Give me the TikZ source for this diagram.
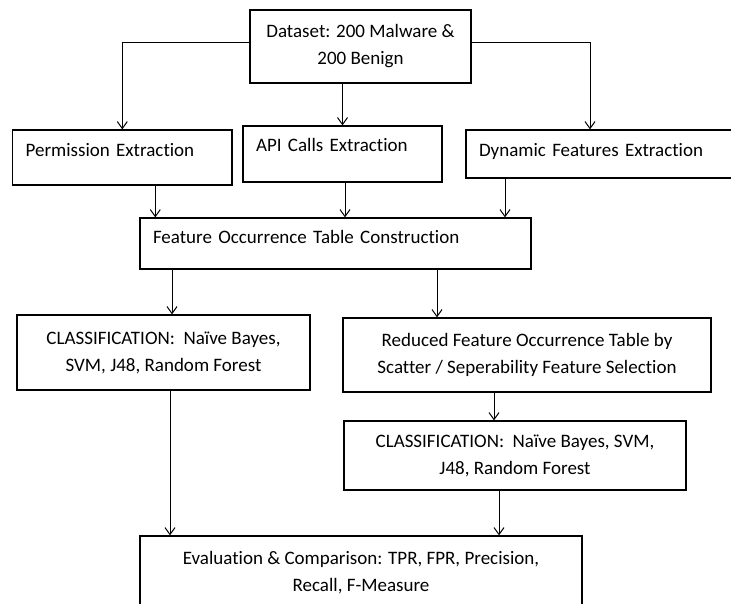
\documentclass[tikz,border=0pt]{standalone}
\usepackage{fontspec}
\setmainfont{Carlito}[Ligatures={NoCommon}]
\usetikzlibrary{arrows.meta}
\begin{document}
\begin{tikzpicture}[x=1pt,y=-1pt,
		box/.style={draw,line width=1.2pt,inner sep=0pt,font=\fontsize{19}{27}\selectfont},
		cbox/.style={box,align=center},
		lbox/.style={box,align=left,inner xsep=13pt},
		arr/.style={line width=1pt,-{Straight Barb[length=7pt,width=10pt]}}]
		\useasboundingbox (0,0) rectangle (731,604);
		\clip (0,0) rectangle (731,604);
		
		\node[cbox,minimum width=221pt,minimum height=73pt] (data) at (360.5,46.5) {Dataset: 200 Malware \&\\200 Benign};
		\node[lbox,text width=193.4pt,minimum height=55pt,text height=13pt,text depth=14.6pt] (perm) at (122.3,157.5) {Permission Extraction};
		\node[lbox,text width=173pt,minimum height=56pt,text height=13pt,text depth=17.6pt] (api) at (342.5,154) {API Calls Extraction};
		\node[lbox,text width=253pt,minimum height=48pt,text height=13pt,text depth=7.6pt] (dyn) at (605.5,154) {Dynamic Features Extraction};
		\node[lbox,text width=365pt,minimum height=51pt,text height=13pt,text depth=13.4pt] (feat) at (335.5,243.5) {Feature Occurrence Table Construction};
		\node[cbox,minimum width=293pt,minimum height=75pt] (classL) at (163.5,352.5) {CLASSIFICATION:\ \ Naïve Bayes,\\SVM, J48, Random Forest};
		\node[cbox,minimum width=368pt,minimum height=74pt] (red) at (527,355) {Reduced Feature Occurrence Table by\\Scatter / Seperability Feature Selection};
		\node[cbox,minimum width=342pt,minimum height=69pt] (classR) at (515,455.5) {CLASSIFICATION:\ \ Naïve Bayes, SVM,\\J48, Random Forest};
		\node[cbox,minimum width=442pt,minimum height=74pt] (eval) at (361,573) {Evaluation \& Comparison: TPR, FPR, Precision,\\Recall, F-Measure};
		
		\draw[arr] ([yshift=3.5pt]data.west) -| (perm.north);
		\draw[arr] (data.south -| api.north) -- (api.north);
		\draw[arr] ([yshift=3.5pt]data.east) -| ([xshift=-15.5pt]dyn.north);
		
		\draw[arr] ([xshift=33pt]perm.south) -- ([xshift=33pt]perm.south |- feat.north);
		\draw[arr] ([xshift=2.5pt]api.south) -- ([xshift=2.5pt]api.south |- feat.north);
		\draw[arr] ([xshift=-100.5pt]dyn.south) -- ([xshift=-100.5pt]dyn.south |- feat.north);
		
		\draw[arr] ([xshift=8.5pt]classL.north |- feat.south) -- ([xshift=8.5pt]classL.north);
		\draw[arr] ([xshift=-90pt]red.north |- feat.south) -- ([xshift=-90pt]red.north);
		\draw[arr] ([xshift=-33pt]red.south) -- ([xshift=-33pt]red.south |- classR.north);
		
		\draw[arr] ([xshift=6.5pt]classL.south) -- ([xshift=6.5pt]classL.south |- eval.north);
		\draw[arr] ([xshift=-16pt]classR.south) -- ([xshift=-16pt]classR.south |- eval.north);
	\end{tikzpicture}
\end{document}
